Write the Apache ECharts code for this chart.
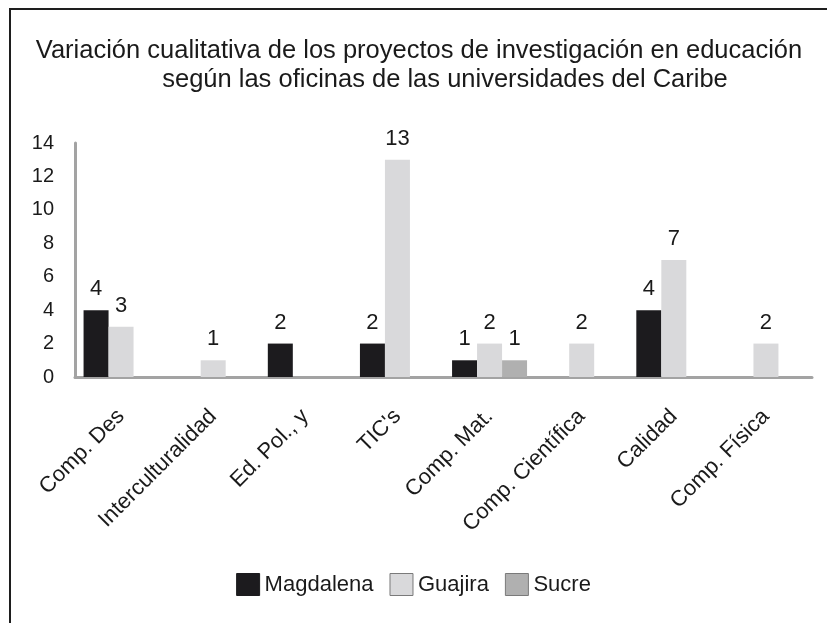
<!DOCTYPE html>
<html>
<head>
<meta charset="utf-8">
<script src="https://cdn.jsdelivr.net/npm/echarts@6/dist/echarts.min.js"></script>
<style>
  html, body { margin: 0; padding: 0; background: #fff; }
  #chart { width: 827px; height: 623px; }
</style>
</head>
<body>
<div id="chart"></div>
<script>
// Données
var categorias = ['Comp. Des', 'Interculturalidad', 'Ed. Pol., y', "TIC's", 'Comp. Mat.', 'Comp. Científica', 'Calidad', 'Comp. Física'];
var magdalena = [4, null, 2, 2, 1, null, 4, null];
var guajira = [3, 1, null, 13, 2, 2, 7, 2];
var sucre = [null, null, null, null, 1, null, null, null];
var seriesNames = ['Magdalena', 'Guajira', 'Sucre'];
var colores = ['#1c1b1e', '#d9d9db', '#b0b0b0'];
var titulo = ['Variación cualitativa de los proyectos de investigación en educación', 'según las oficinas de las universidades del Caribe'];

var fuente = '"Liberation Sans", Arial, sans-serif';
var chart = echarts.init(document.getElementById('chart'));

function serie(nombre, datos, color) {
	return {
		name: nombre,
		type: 'bar',
		data: datos,
		barWidth: 25,
		barGap: '0%',
		itemStyle: { color: color },
		label: {
			show: true,
			position: 'top',
			distance: 10,
			fontSize: 22,
			fontFamily: fuente,
			color: '#1a1a1a'
		}
	};
}

var estiloTitulo = {
	fontSize: 25.5,
	fontWeight: 'normal',
	fontFamily: fuente,
	color: '#1a1a1a'
};

var options = {
	animation: false,
	backgroundColor: '#fff',
	graphic: [{
		type: 'rect',
		shape: { x: 10, y: 9, width: 900, height: 700 },
		style: { fill: 'none', stroke: '#1e1e1e', lineWidth: 2 },
		silent: true
	}],
	title: [
		{ text: titulo[0], left: 414, top: 33, textAlign: 'center', textStyle: estiloTitulo },
		{ text: titulo[1], left: 440, top: 62, textAlign: 'center', textStyle: estiloTitulo }
	],
	legend: {
		bottom: 22,
		left: 'center',
		icon: 'rect',
		itemWidth: 23,
		itemHeight: 22,
		itemGap: 16,
		textStyle: { fontSize: 22, fontFamily: fuente, color: '#1a1a1a' },
		data: seriesNames.map(function (n, i) {
			return { name: n, itemStyle: { color: colores[i], borderColor: i === 0 ? '#1c1b1e' : '#7a7a7a', borderWidth: 1 } };
		})
	},
	grid: { left: 75, right: 15, top: 143, bottom: 246, containLabel: false },
	xAxis: {
		type: 'category',
		data: categorias,
		axisLine: { lineStyle: { color: '#a3a3a3', width: 3 } },
		axisTick: { show: false },
		axisLabel: {
			interval: 0,
			rotate: 45,
			margin: 36,
			fontSize: 22,
			fontFamily: fuente,
			color: '#1a1a1a'
		}
	},
	yAxis: {
		type: 'value',
		min: 0,
		max: 14,
		interval: 2,
		axisLine: { show: true, lineStyle: { color: '#a3a3a3', width: 3 } },
		axisTick: { show: false },
		splitLine: { show: false },
		axisLabel: { margin: 21, fontSize: 20, fontFamily: fuente, color: '#1a1a1a' }
	},
	series: [
		serie(seriesNames[0], magdalena, colores[0]),
		serie(seriesNames[1], guajira, colores[1]),
		serie(seriesNames[2], sucre, colores[2])
	]
};

chart.setOption(options);
</script>
</body>
</html>
